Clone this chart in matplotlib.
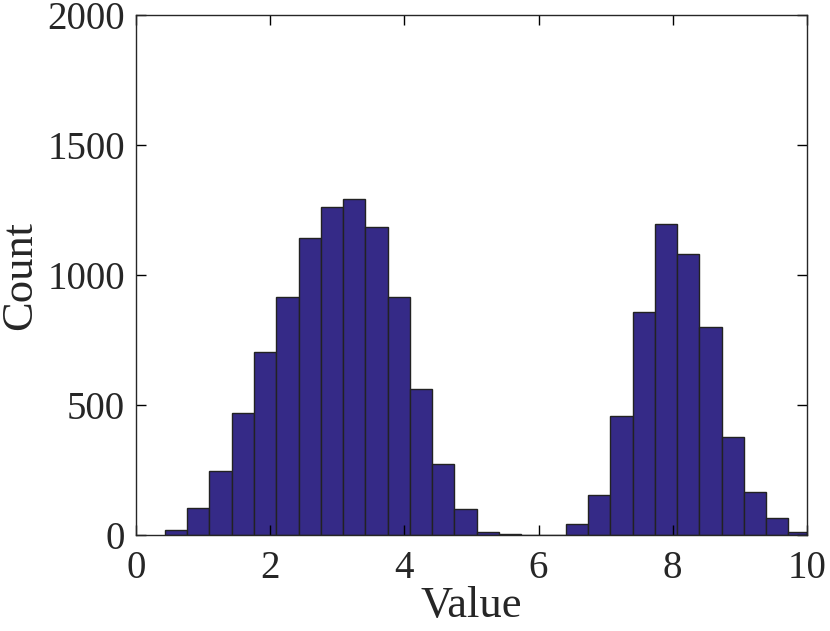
import numpy as np
import matplotlib
matplotlib.use('Agg')
import matplotlib.pyplot as plt

# Histogram bin layout
bin_start = 0.43
bin_width = 0.332

# Count per bin, left to right
counts = [18, 103, 247, 470, 704, 914, 1142, 1263, 1294, 1186,
          917, 563, 275, 99, 13, 4, 1, 2, 41, 155,
          457, 859, 1198, 1082, 801, 376, 166, 64, 13]

x_ticks = [0, 2, 4, 6, 8, 10]
y_ticks = [0, 500, 1000, 1500, 2000]

plt.rcParams['font.family'] = ['Liberation Serif', 'DejaVu Serif']

edges = bin_start + bin_width * np.arange(len(counts) + 1)

fig = plt.figure(figsize=(8.3, 6.31), dpi=100)
ax = fig.add_axes([0.164, 0.152, 0.808, 0.824])
ax.bar(edges[:-1], counts, width=bin_width, align='edge',
       color='#352a87', edgecolor='#222222', linewidth=1.0)

ax.set_xlim(0, 10)
ax.set_ylim(0, 2000)
ax.set_xticks(x_ticks)
ax.set_yticks(y_ticks)
ax.tick_params(direction='in', length=7, width=1, labelsize=28,
               labelcolor='#262626', top=True, right=True)
ax.tick_params(axis='x', pad=11)
ax.tick_params(axis='y', pad=8)
for s in ax.spines.values():
    s.set_linewidth(1.0)
    s.set_color('#262626')
ax.set_xlabel('Value', fontsize=32, labelpad=-1, color='#262626')
ax.set_ylabel('Count', fontsize=32, labelpad=5, color='#262626')

fig.savefig('out.png', dpi=100)
